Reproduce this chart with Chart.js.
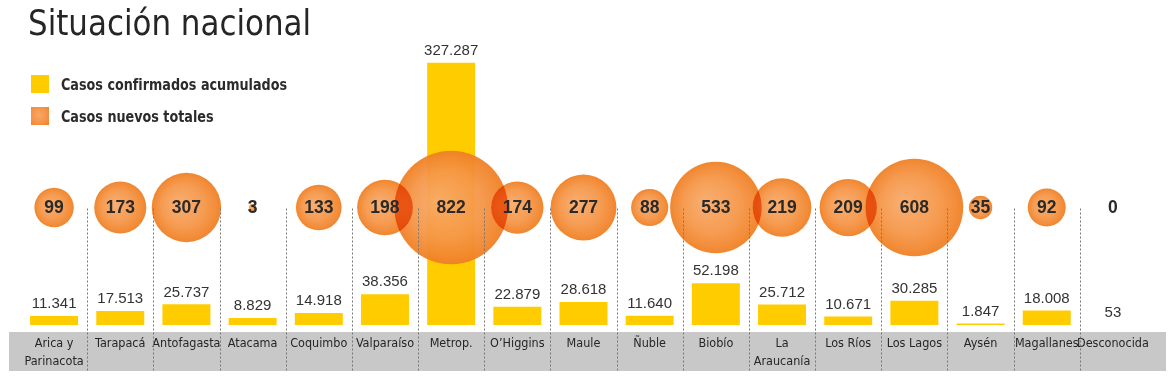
<!DOCTYPE html>
<html lang="es">
<head>
<meta charset="utf-8">
<script src="https://cdn.jsdelivr.net/npm/chart.js@4/dist/chart.umd.min.js"></script>
<style>
  html, body { margin: 0; padding: 0; background: #ffffff; }
  #wrap { position: relative; width: 1174px; height: 383px; overflow: hidden; }
  #c { position: absolute; left: 0; top: 0; }
  .title {
    position: absolute; left: 28px; top: 5px; margin: 0; white-space: nowrap;
    font-family: "DejaVu Sans Condensed", "Liberation Sans", sans-serif;
    font-weight: normal; font-size: 36px; line-height: 1; color: #252525;
    transform: scaleX(0.955); transform-origin: 0 0;
  }
  .legend { position: absolute; left: 31px; top: 75px; }
  .item { display: flex; align-items: center; height: 18px; margin-bottom: 14px; white-space: nowrap; }
  .sw { width: 18px; height: 18px; margin-right: 12px; flex: none; }
  .sw.bar { background: #ffcc00; }
  .sw.bub { background: radial-gradient(circle at 45% 45%, #f7a866 0%, #f59448 55%, #f08024 100%); }
  .lt {
    font-family: "DejaVu Sans Condensed", "Liberation Sans", sans-serif;
    font-weight: bold; font-size: 16.5px; color: #2b2b2b; line-height: 1; position: relative; top: 1px;
    display: inline-block; transform: scaleX(0.86); transform-origin: 0 50%;
  }
</style>
</head>
<body>
<div id="wrap">
  <canvas id="c" width="1174" height="383"></canvas>
  <div class="title">Situación nacional</div>
  <div class="legend">
    <div class="item"><div class="sw bar"></div><span class="lt">Casos confirmados acumulados</span></div>
    <div class="item"><div class="sw bub"></div><span class="lt">Casos nuevos totales</span></div>
  </div>
</div>
<script>
// ---- data ----
const regions = [
  ["Arica y", "Parinacota"], "Tarapacá", "Antofagasta", "Atacama", "Coquimbo", "Valparaíso",
  "Metrop.", "O’Higgins", "Maule", "Ñuble", "Biobío", ["La", "Araucanía"], "Los Ríos",
  "Los Lagos", "Aysén", "Magallanes", "Desconocida"
];
const confirmedCases = [11341, 17513, 25737, 8829, 14918, 38356, 327287, 22879, 28618, 11640, 52198, 25712, 10671, 30285, 1847, 18008, 53];
const newCases = [99, 173, 307, 3, 133, 198, 822, 174, 277, 88, 533, 219, 209, 608, 35, 92, 0];

// ---- styling constants ----
const Y_MAX = 405500;          // bar axis max
const BUBBLE_ROW = 0.3615;     // bubble row position on hidden 0..1 axis
const BUBBLE_SCALE = 1.98;     // px radius per sqrt(case)
const COND = '"DejaVu Sans Condensed", "Liberation Sans", sans-serif';
const SANS = '"Liberation Sans", Arial, sans-serif';

function fmt(v) { return String(v).replace(/\B(?=(\d{3})+(?!\d))/g, "."); }

const bubbleData = newCases.map((v, i) => ({ x: i, y: BUBBLE_ROW, r: BUBBLE_SCALE * Math.sqrt(v) }));

function bubbleFill(c) {
  const chart = c.chart;
  const raw = c.raw;
  if (!raw || !chart.chartArea || !chart.scales.x) return "rgba(243,144,64,0.94)";
  const x = chart.scales.x.getPixelForValue(raw.x);
  const y = chart.scales.yb.getPixelForValue(raw.y);
  const r = Math.max(raw.r, 1);
  const g = chart.ctx.createRadialGradient(x - r * 0.25, y - r * 0.12, 0, x, y, r);
  g.addColorStop(0, "rgba(248,170,106,0.94)");
  g.addColorStop(0.6, "rgba(245,150,72,0.94)");
  g.addColorStop(1, "rgba(240,128,36,0.95)");
  return g;
}

const blendPlugin = {
  id: "blend",
  beforeDatasetDraw(chart, args) {
    chart.ctx.save();
    chart.ctx.globalCompositeOperation = args.meta.type === "bubble" ? "multiply" : "destination-over";
  },
  afterDatasetDraw(chart) { chart.ctx.restore(); }
};

const bandPlugin = {
  id: "band",
  beforeDraw(chart) {
    const ctx = chart.ctx, xs = chart.scales.x, a = chart.chartArea;
    ctx.save();
    ctx.fillStyle = "#c8c8c8";
    ctx.fillRect(a.left - 12, xs.top + 7, (a.right + 20) - (a.left - 12), 39);
    ctx.restore();
  }
};

const overlayPlugin = {
  id: "overlay",
  afterDatasetsDraw(chart) {
    const ctx = chart.ctx, xs = chart.scales.x;
    ctx.save();
    // dotted separators
    ctx.strokeStyle = "#777";
    ctx.lineWidth = 1;
    ctx.setLineDash([2, 2]);
    const yTop = chart.scales.yb.getPixelForValue(BUBBLE_ROW) + 1;
    const yBot = xs.top + 47;
    for (let i = 0; i < regions.length - 1; i++) {
      const x = Math.round((xs.getPixelForValue(i) + xs.getPixelForValue(i + 1)) / 2) + 0.5;
      ctx.beginPath(); ctx.moveTo(x, yTop); ctx.lineTo(x, yBot); ctx.stroke();
    }
    ctx.setLineDash([]);
    ctx.textAlign = "center";
    ctx.textBaseline = "middle";
    // bar labels
    const barMeta = chart.getDatasetMeta(1);
    ctx.font = "15px " + SANS;
    ctx.fillStyle = "#333";
    barMeta.data.forEach((el, i) => { ctx.fillText(fmt(confirmedCases[i]), el.x, el.y - 12); });
    // bubble labels
    const bMeta = chart.getDatasetMeta(0);
    ctx.font = "bold 17.5px " + SANS;
    ctx.fillStyle = "#2a2a2a";
    bMeta.data.forEach((el, i) => { ctx.fillText(String(newCases[i]), el.x, el.y + 1); });
    ctx.restore();
  }
};

new Chart(document.getElementById("c"), {
  type: "bar",
  data: {
    labels: regions,
    datasets: [
      {
        type: "bubble",
        label: "Casos nuevos totales",
        data: bubbleData,
        yAxisID: "yb",
        backgroundColor: bubbleFill,
        borderWidth: 0,
        hoverBorderWidth: 0,
        clip: false,
        order: 2
      },
      {
        type: "bar",
        label: "Casos confirmados acumulados",
        data: confirmedCases,
        yAxisID: "y",
        backgroundColor: "#ffcc00",
        borderWidth: 0,
        barPercentage: 0.725,
        categoryPercentage: 1,
        order: 1
      }
    ]
  },
  options: {
    responsive: false,
    animation: false,
    devicePixelRatio: 1,
    events: [],
    layout: { autoPadding: false, padding: { left: 21, right: 28, top: 0, bottom: 0 } },
    plugins: { legend: { display: false }, tooltip: { enabled: false } },
    scales: {
      x: {
        type: "category",
        offset: true,
        grid: { display: false, drawTicks: false },
        border: { display: false },
        ticks: {
          autoSkip: false, maxRotation: 0, minRotation: 0, padding: 10,
          color: "#262626",
          font: { family: COND, size: 12.5, lineHeight: 1.4 }
        },
        afterFit(s) { s.height = 58; s.paddingLeft = 0; s.paddingRight = 0; }
      },
      y: { display: false, min: 0, max: Y_MAX },
      yb: { display: false, min: 0, max: 1 }
    }
  },
  plugins: [bandPlugin, blendPlugin, overlayPlugin]
});
</script>
</body>
</html>
